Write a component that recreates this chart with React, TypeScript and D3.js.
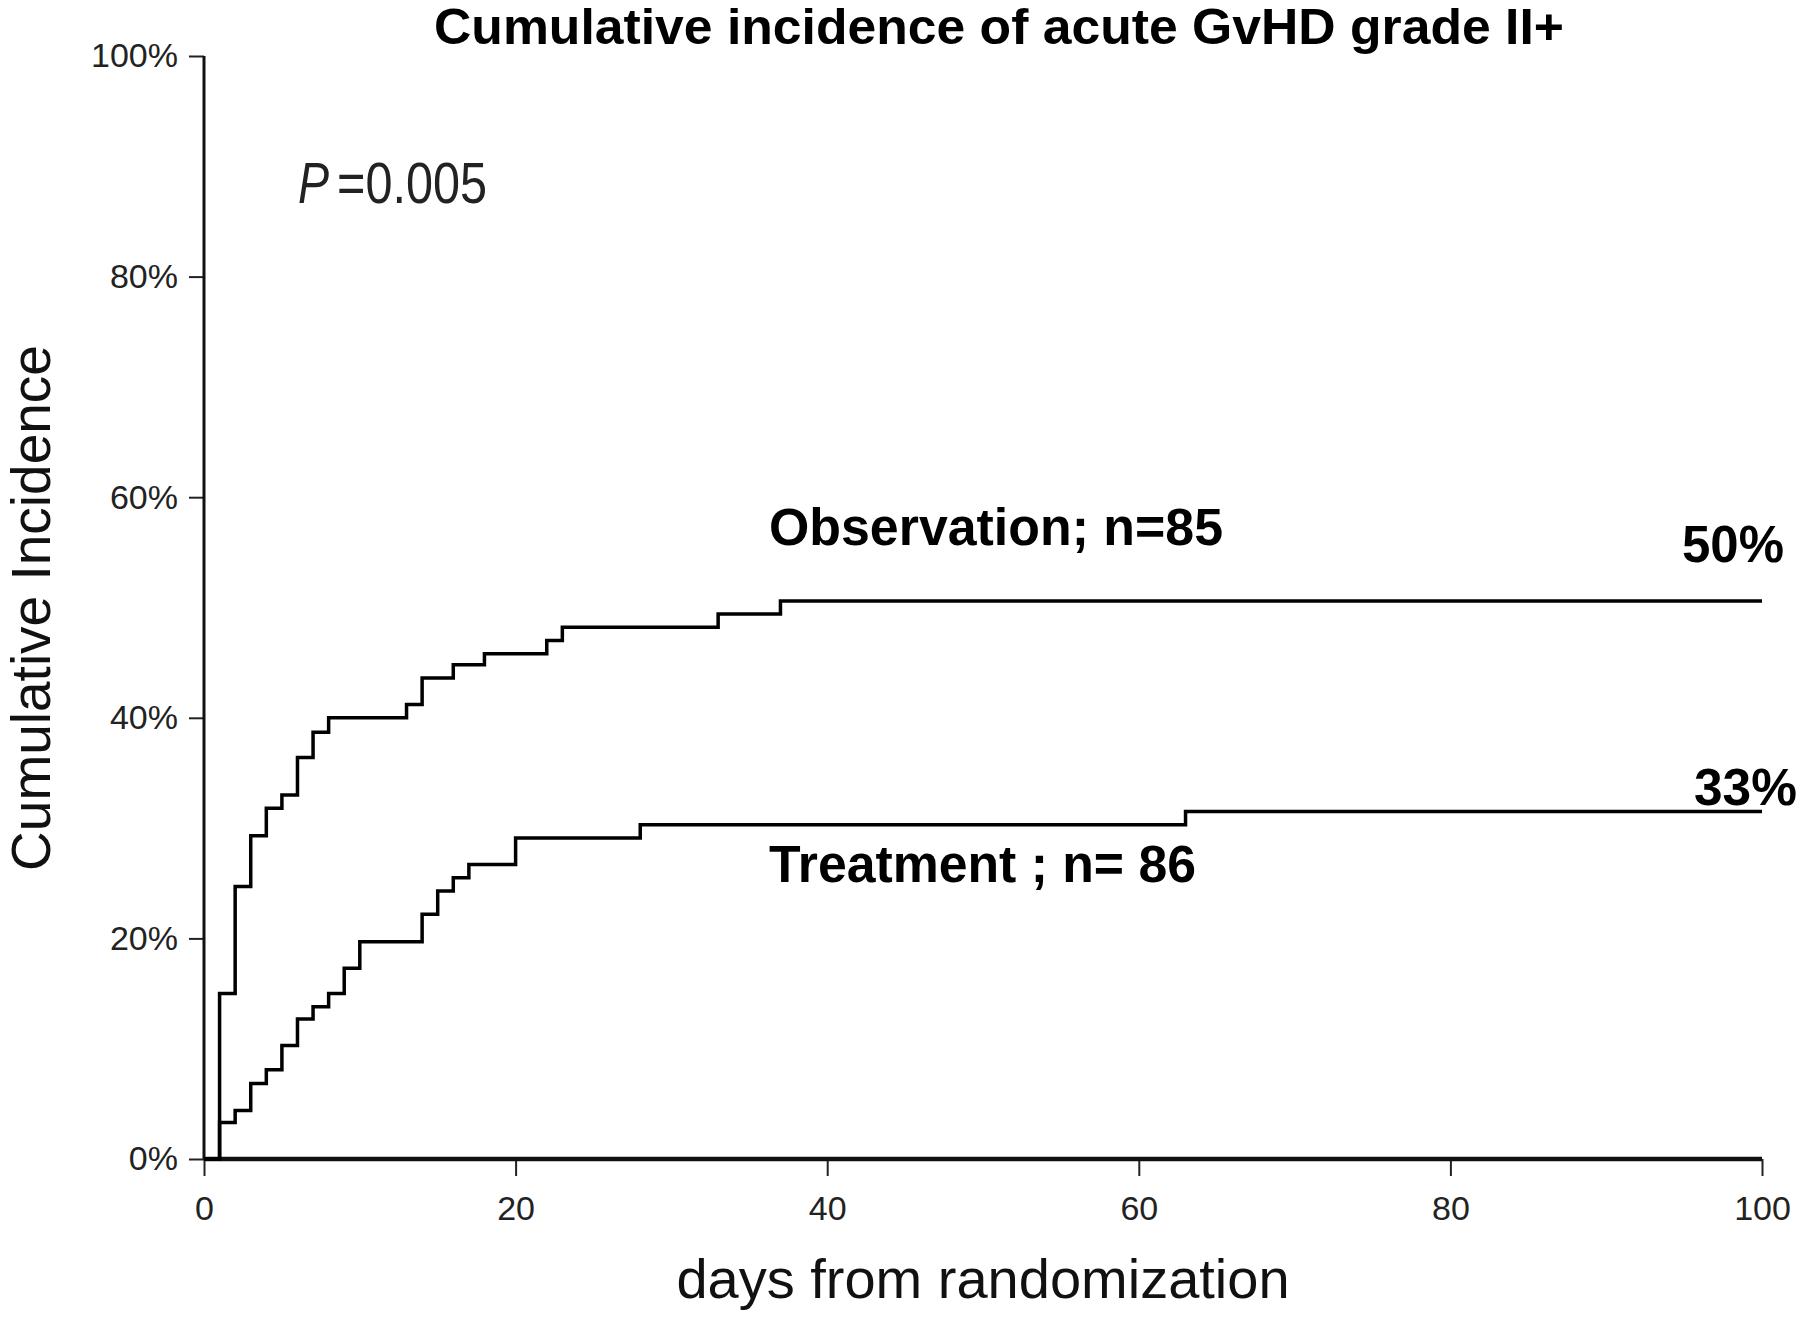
import React, { useEffect, useRef } from 'react';
import * as d3 from 'd3';

// step data: day of event -> cumulative incidence (%)
const obsDays = [0, 1, 2, 3, 4, 5, 6, 7, 8, 13, 14, 16, 18, 22, 23, 33, 37, 100];
const obsCI = [0, 15.0, 24.7, 29.3, 31.8, 33.0, 36.4, 38.7, 40.0, 41.2, 43.6, 44.8, 45.8, 47.0, 48.2, 49.4, 50.6, 50.6];

const trtDays = [0, 1, 2, 3, 4, 5, 6, 7, 8, 9, 10, 14, 15, 16, 17, 20, 28, 63, 100];
const trtCI = [0, 3.3, 4.4, 6.85, 8.1, 10.3, 12.7, 13.8, 15.0, 17.3, 19.7, 22.2, 24.3, 25.5, 26.7, 29.1, 30.3, 31.5, 31.5];

const xTicks = [0, 20, 40, 60, 80, 100];
const yTicks = [0, 20, 40, 60, 80, 100];

const title = 'Cumulative incidence of acute GvHD grade II+';
const xLabel = 'days from randomization';
const yLabel = 'Cumulative Incidence';
const obsLabel = 'Observation; n=85';
const trtLabel = 'Treatment ; n= 86';
const obsEnd = '50%';
const trtEnd = '33%';

const width = 1800;
const height = 1321;
const font = '"Liberation Sans", Arial, Helvetica, sans-serif';

export default function App() {
  const svgRef = useRef<SVGSVGElement>(null);

  useEffect(() => {
    document.body.style.margin = '0';
    if (!svgRef.current) return;

    const svg = d3.select(svgRef.current);
    svg.selectAll('*').remove();
    svg.attr('width', width).attr('height', height);

    svg.append('rect').attr('width', width).attr('height', height).attr('fill', '#fff');

    const xScale = d3.scaleLinear().domain([0, 100]).range([204, 1762]);
    const yScale = d3.scaleLinear().domain([0, 100]).range([1159, 56]);

    // axes
    const yAxis = svg.append('g').attr('transform', `translate(${xScale(0)},0)`);
    yAxis
      .call(d3.axisLeft(yScale).tickValues(yTicks).tickSize(15).tickPadding(11).tickFormat((d) => `${d}%`))
      .call((g) => g.select('.domain').remove());
    yAxis.selectAll('line').attr('stroke', '#222').attr('stroke-width', 2);
    yAxis
      .selectAll('text')
      .attr('font-family', font)
      .attr('font-size', 34)
      .attr('fill', '#222');
    yAxis
      .append('line')
      .attr('y1', yScale(100))
      .attr('y2', yScale(0))
      .attr('stroke', '#111')
      .attr('stroke-width', 3);

    const xAxis = svg.append('g').attr('transform', `translate(0,${yScale(0)})`);
    xAxis
      .call(d3.axisBottom(xScale).tickValues(xTicks).tickSize(17).tickPadding(20).tickFormat((d) => `${d}`))
      .call((g) => g.select('.domain').remove());
    xAxis.selectAll('line').attr('stroke', '#222').attr('stroke-width', 2);
    xAxis
      .selectAll('text')
      .attr('font-family', font)
      .attr('font-size', 34)
      .attr('fill', '#222');
    xAxis
      .append('line')
      .attr('x1', xScale(0))
      .attr('x2', xScale(100))
      .attr('stroke', '#111')
      .attr('stroke-width', 4.5);

    // step curves
    const line = d3
      .line<[number, number]>()
      .x((d) => xScale(d[0]))
      .y((d) => yScale(d[1]))
      .curve(d3.curveStepAfter);

    const obsData: [number, number][] = obsDays.map((d, i) => [d, obsCI[i]]);
    const trtData: [number, number][] = trtDays.map((d, i) => [d, trtCI[i]]);

    [obsData, trtData].forEach((data) => {
      svg
        .append('path')
        .datum(data)
        .attr('d', line)
        .attr('fill', 'none')
        .attr('stroke', '#000')
        .attr('stroke-width', 3.5)
        .attr('stroke-linejoin', 'miter');
    });

    // texts
    svg
      .append('text')
      .attr('x', 434)
      .attr('y', 44)
      .attr('font-family', font)
      .attr('font-weight', 'bold')
      .attr('font-size', 50)
      .attr('fill', '#000')
      .attr('textLength', 1130)
      .attr('lengthAdjust', 'spacingAndGlyphs')
      .text(title);

    svg
      .append('text')
      .attr('x', 983)
      .attr('y', 1298)
      .attr('text-anchor', 'middle')
      .attr('font-family', font)
      .attr('font-size', 56)
      .attr('fill', '#111')
      .text(xLabel);

    svg
      .append('text')
      .attr('transform', `translate(50,608) rotate(-90)`)
      .attr('text-anchor', 'middle')
      .attr('font-family', font)
      .attr('font-size', 55)
      .attr('fill', '#111')
      .text(yLabel);

    // P value: italic P followed by the number
    svg
      .append('text')
      .attr('x', 298)
      .attr('y', 203)
      .attr('font-family', font)
      .attr('font-size', 57)
      .attr('font-style', 'italic')
      .attr('fill', '#222')
      .attr('textLength', 31)
      .attr('lengthAdjust', 'spacingAndGlyphs')
      .text('P');
    svg
      .append('text')
      .attr('x', 337)
      .attr('y', 203)
      .attr('font-family', font)
      .attr('font-size', 57)
      .attr('fill', '#222')
      .attr('textLength', 150)
      .attr('lengthAdjust', 'spacingAndGlyphs')
      .text('=0.005');

    const bold = (txt: string, x: number, y: number, len: number) =>
      svg
        .append('text')
        .attr('x', x)
        .attr('y', y)
        .attr('font-family', font)
        .attr('font-weight', 'bold')
        .attr('font-size', 51)
        .attr('fill', '#000')
        .attr('textLength', len)
        .attr('lengthAdjust', 'spacingAndGlyphs')
        .text(txt);

    bold(obsLabel, 769, 545, 454);
    bold(trtLabel, 769, 882, 427);
    bold(obsEnd, 1682, 562, 102);
    bold(trtEnd, 1694, 805, 103);
  }, []);

  return <svg ref={svgRef} style={{ display: 'block' }} />;
}
